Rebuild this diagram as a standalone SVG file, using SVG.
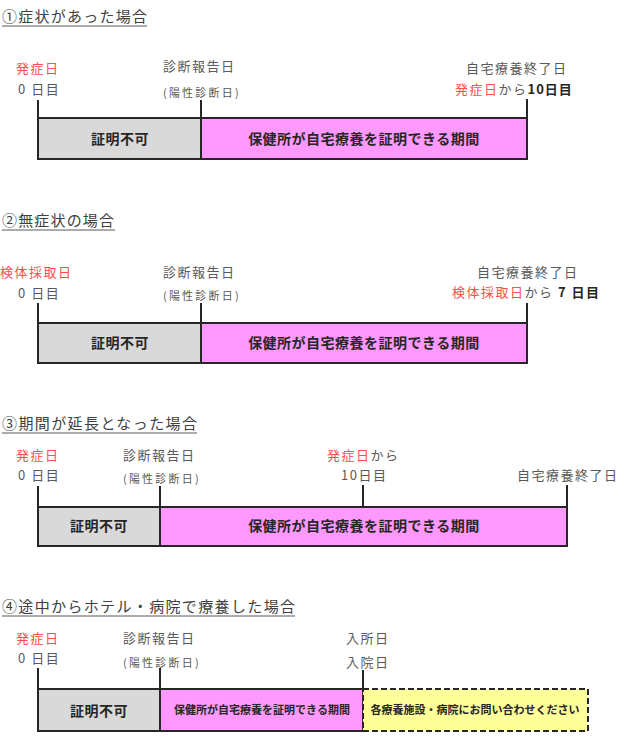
<svg xmlns="http://www.w3.org/2000/svg" width="635" height="752" viewBox="0 0 635 752">
<style>
text{font-family:"Noto Sans CJK JP","Noto Sans",sans-serif;}
.title{font-size:15px;fill:#404040;}
.lbl{font-size:13px;fill:#595959;letter-spacing:1.5px;}
.sm{font-size:11px;fill:#595959;letter-spacing:2.2px;}
.red{fill:#ff4d4d;}
.b{font-weight:bold;fill:#262626;}
.bar{font-size:14px;font-weight:bold;fill:#262626;text-anchor:middle;letter-spacing:0.5px;}
.bars{font-size:11px;font-weight:bold;fill:#262626;text-anchor:middle;}
.ul{stroke:#595959;stroke-width:1;}
.tick{stroke:#262626;stroke-width:2;}
.gray{fill:#d9d9d9;stroke:#262626;stroke-width:2;}
.pink{fill:#ff99ff;stroke:#262626;stroke-width:2;}
.yel{fill:#ffff99;stroke:#262626;stroke-width:2;stroke-dasharray:6,3;}
</style>
<rect width="635" height="752" fill="#ffffff"/>

<!-- Section 1 -->
<g id="s1">
<text class="title" x="2" y="22" textLength="145">①症状があった場合</text>
<line class="ul" x1="2" y1="26" x2="147" y2="26"/>
<g id="s1-labels">
<text class="lbl red" x="16" y="73">発症日</text>
<text class="lbl" x="18" y="94">0 日目</text>
<text class="lbl" x="163" y="71">診断報告日</text>
<text class="sm" x="163" y="97">(陽性診断日)</text>
<text class="lbl" x="466" y="73">自宅療養終了日</text>
<text class="lbl" x="455" y="94"><tspan class="red">発症日</tspan>から<tspan class="b" letter-spacing="1">10日目</tspan></text>
</g>
<g id="s1-connectors">
<line class="tick" x1="38" y1="100" x2="38" y2="118"/>
<line class="tick" x1="201" y1="100" x2="201" y2="118"/>
<line class="tick" x1="527" y1="99" x2="527" y2="118"/>
</g>
<g id="s1-gray"><rect class="gray" x="38" y="118" width="163" height="41"/><text class="bar" x="120" y="144">証明不可</text></g>
<g id="s1-pink"><rect class="pink" x="201" y="118" width="326" height="41"/><text class="bar" x="364" y="144">保健所が自宅療養を証明できる期間</text></g>
</g>

<!-- Section 2 -->
<g id="s2">
<text class="title" x="2" y="226" textLength="112">②無症状の場合</text>
<line class="ul" x1="2" y1="230" x2="115" y2="230"/>
<g id="s2-labels">
<text class="lbl red" x="0" y="277">検体採取日</text>
<text class="lbl" x="18" y="298">0 日目</text>
<text class="lbl" x="163" y="277">診断報告日</text>
<text class="sm" x="163" y="300">(陽性診断日)</text>
<text class="lbl" x="477" y="277">自宅療養終了日</text>
<text class="lbl" x="452" y="297"><tspan class="red">検体採取日</tspan>から<tspan class="b"> 7 日目</tspan></text>
</g>
<g id="s2-connectors">
<line class="tick" x1="38" y1="303" x2="38" y2="323"/>
<line class="tick" x1="201" y1="303" x2="201" y2="323"/>
<line class="tick" x1="527" y1="303" x2="527" y2="323"/>
</g>
<g id="s2-gray"><rect class="gray" x="38" y="323" width="163" height="40"/><text class="bar" x="120" y="348">証明不可</text></g>
<g id="s2-pink"><rect class="pink" x="201" y="323" width="326" height="40"/><text class="bar" x="364" y="348">保健所が自宅療養を証明できる期間</text></g>
</g>

<!-- Section 3 -->
<g id="s3">
<text class="title" x="2" y="429" textLength="195">③期間が延長となった場合</text>
<line class="ul" x1="2" y1="433" x2="197" y2="433"/>
<g id="s3-labels">
<text class="lbl red" x="16" y="460">発症日</text>
<text class="lbl" x="18" y="480">0 日目</text>
<text class="lbl" x="123" y="460">診断報告日</text>
<text class="sm" x="123" y="483">(陽性診断日)</text>
<text class="lbl" x="327" y="460"><tspan class="red">発症日</tspan>から</text>
<text class="lbl" x="341" y="480" letter-spacing="0.5">10日目</text>
<text class="lbl" x="517" y="480">自宅療養終了日</text>
</g>
<g id="s3-connectors">
<line class="tick" x1="38" y1="486" x2="38" y2="507"/>
<line class="tick" x1="160" y1="486" x2="160" y2="507"/>
<line class="tick" x1="363" y1="485" x2="363" y2="507"/>
<line class="tick" x1="567" y1="485" x2="567" y2="507"/>
</g>
<g id="s3-gray"><rect class="gray" x="38" y="507" width="122" height="39"/><text class="bar" x="99" y="531">証明不可</text></g>
<g id="s3-pink"><rect class="pink" x="160" y="507" width="407" height="39"/><text class="bar" x="364" y="531">保健所が自宅療養を証明できる期間</text></g>
</g>

<!-- Section 4 -->
<g id="s4">
<text class="title" x="2" y="612" textLength="293">④途中からホテル・病院で療養した場合</text>
<line class="ul" x1="2" y1="616" x2="295" y2="616"/>
<g id="s4-labels">
<text class="lbl red" x="16" y="643">発症日</text>
<text class="lbl" x="18" y="663">0 日目</text>
<text class="lbl" x="123" y="643">診断報告日</text>
<text class="sm" x="123" y="667">(陽性診断日)</text>
<text class="lbl" x="346" y="643" font-size="12" letter-spacing="0.5">入所日</text>
<text class="lbl" x="346" y="667" font-size="12" letter-spacing="0.5">入院日</text>
</g>
<g id="s4-connectors">
<line class="tick" x1="38" y1="668" x2="38" y2="689"/>
<line class="tick" x1="160" y1="668" x2="160" y2="689"/>
<line class="tick" x1="363" y1="670" x2="363" y2="689"/>
</g>
<g id="s4-gray"><rect class="gray" x="38" y="689" width="122" height="42"/><text class="bar" x="99" y="716">証明不可</text></g>
<g id="s4-pink"><rect class="pink" x="160" y="689" width="203" height="42"/><text class="bars" x="262" y="714">保健所が自宅療養を証明できる期間</text></g>
<g id="s4-yellow"><rect class="yel" x="363" y="689" width="225" height="42"/><text class="bars" x="475" y="714">各療養施設・病院にお問い合わせください</text></g>
</g>
</svg>
